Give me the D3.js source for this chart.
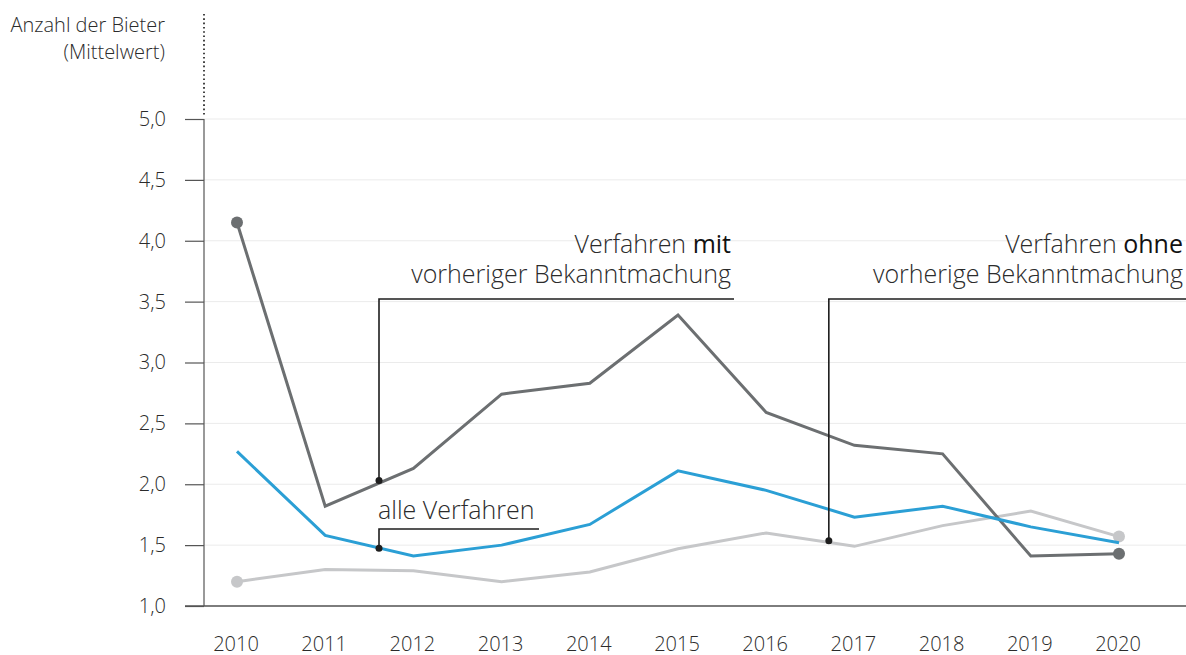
<!DOCTYPE html>
<html>
<head>
<meta charset="utf-8">
<script src="https://cdn.jsdelivr.net/npm/d3@7"></script>
<style>
  body { margin: 0; background: #fff; }
  svg text { font-family: "Open Sans", "Noto Sans", sans-serif; font-weight: 300; fill: #2b2b2b; }
  .grid line { stroke: #ebebeb; }
</style>
</head>
<body>
<div id="chart"></div>
<script>
// data
var years = [2010, 2011, 2012, 2013, 2014, 2015, 2016, 2017, 2018, 2019, 2020];
var mitBekanntmachung = [4.15, 1.82, 2.13, 2.74, 2.83, 3.39, 2.59, 2.32, 2.25, 1.41, 1.43];
var alleVerfahren = [2.27, 1.58, 1.41, 1.50, 1.67, 2.11, 1.95, 1.73, 1.82, 1.65, 1.52];
var ohneBekanntmachung = [1.20, 1.30, 1.29, 1.20, 1.28, 1.47, 1.60, 1.49, 1.66, 1.78, 1.57];
var yTicks = [1.0, 1.5, 2.0, 2.5, 3.0, 3.5, 4.0, 4.5, 5.0];
var yTitle = ["Anzahl der Bieter", "(Mittelwert)"];

// set the dimensions of the graph
var width = 1186, height = 655;
var axisX = 204, baseY = 606;

var svg = d3.select("#chart")
  .append("svg")
    .attr("width", width)
    .attr("height", height);

var x = d3.scaleLinear().domain([2010, 2020]).range([237, 1119]);
var y = d3.scaleLinear().domain([1, 5]).range([baseY, 119]);

var fmt = function(d) { return d3.format(".1f")(d).replace(".", ","); };

// gridlines
svg.append("g")
    .attr("class", "grid")
  .selectAll("line")
  .data(yTicks)
  .enter()
  .append("line")
    .attr("x1", axisX)
    .attr("x2", width)
    .attr("y1", function(d) { return y(d); })
    .attr("y2", function(d) { return y(d); });

// y axis
var yAxis = svg.append("g")
    .attr("transform", "translate(" + axisX + ",0)")
    .call(d3.axisLeft(y).tickValues(yTicks).tickFormat(fmt).tickSize(19).tickPadding(19));
yAxis.select(".domain").remove();
yAxis.selectAll(".tick line").attr("stroke", "#555").attr("stroke-width", 1.2);
yAxis.selectAll(".tick text").attr("font-size", 20).attr("fill", "#2b2b2b").attr("font-family", null);

svg.append("line")
    .attr("x1", axisX).attr("x2", axisX)
    .attr("y1", y(5)).attr("y2", baseY)
    .attr("stroke", "#555").attr("stroke-width", 1.2);

// dotted extension above the axis
svg.append("line")
    .attr("x1", axisX).attr("x2", axisX)
    .attr("y1", 14).attr("y2", y(5) - 3)
    .attr("stroke", "#444").attr("stroke-width", 2)
    .attr("stroke-dasharray", "1.6,2.7");

// x axis
svg.append("line")
    .attr("x1", 185).attr("x2", width)
    .attr("y1", baseY).attr("y2", baseY)
    .attr("stroke", "#555").attr("stroke-width", 1.5);

svg.selectAll(".year")
  .data(years)
  .enter()
  .append("text")
    .attr("class", "year")
    .attr("x", function(d) { return x(d) - 1; })
    .attr("y", 651)
    .attr("text-anchor", "middle")
    .attr("font-size", 20)
    .text(function(d) { return d; });

// axis title
svg.selectAll(".ytitle")
  .data(yTitle)
  .enter()
  .append("text")
    .attr("x", 165)
    .attr("y", function(d, i) { return 32 + i * 27; })
    .attr("text-anchor", "end")
    .attr("font-size", 20)
    .text(function(d) { return d; });

// lines
var series = [
  {name: "ohne", values: ohneBekanntmachung, color: "#c6c7c9", dots: true},
  {name: "mit", values: mitBekanntmachung, color: "#6c6f71", dots: true},
  {name: "alle", values: alleVerfahren, color: "#2b9fd5", dots: false}
];

var line = d3.line()
  .x(function(d, i) { return x(years[i]); })
  .y(function(d) { return y(d); });

series.forEach(function(s) {
  svg.append("path")
    .datum(s.values)
    .attr("d", line)
    .attr("fill", "none")
    .attr("stroke", s.color)
    .attr("stroke-width", 3)
    .attr("stroke-linejoin", "miter");

  if (s.dots) {
    var last = s.values.length - 1;
    svg.selectAll(".dot-" + s.name)
      .data([0, last])
      .enter()
      .append("circle")
        .attr("cx", function(i) { return x(years[i]); })
        .attr("cy", function(i) { return y(s.values[i]); })
        .attr("r", 6)
        .attr("fill", s.color);
  }
});

// annotations (anchor year / value on the line, label text)
var annotations = [
  {anchorYear: 2011.61, anchorValue: 2.03, lines: [["Verfahren ", "mit"], ["vorheriger Bekanntmachung"]], side: "above", right: 734},
  {anchorYear: 2016.71, anchorValue: 1.535, lines: [["Verfahren ", "ohne"], ["vorherige Bekanntmachung"]], side: "above", right: 1186},
  {anchorYear: 2011.61, anchorValue: 1.475, lines: [["alle Verfahren"]], side: "below", right: 539}
];

annotations.forEach(function(a) {
  var ax = x(a.anchorYear), ay = y(a.anchorValue);
  var topY = a.side == "above" ? 299 : 529;

  svg.append("path")
    .attr("d", "M" + ax + "," + ay + "V" + topY + "H" + a.right)
    .attr("fill", "none")
    .attr("stroke", "#1e1e1e")
    .attr("stroke-width", 1.6);

  svg.append("circle")
    .attr("cx", ax).attr("cy", ay).attr("r", 3.5)
    .attr("fill", "#1e1e1e");

  a.lines.forEach(function(parts, i) {
    var t = svg.append("text")
      .attr("font-size", 25);
    if (a.side == "above") {
      t.attr("x", a.right - 3)
        .attr("y", 253 + i * 30)
        .attr("text-anchor", "end");
    } else {
      t.attr("x", ax - 1)
        .attr("y", 519)
        .attr("text-anchor", "start");
    }
    parts.forEach(function(p, j) {
      t.append("tspan")
        .style("font-weight", j == 1 ? 400 : 300)
        .style("fill", j == 1 ? "#111" : null)
        .text(p);
    });
  });
});
</script>
</body>
</html>
